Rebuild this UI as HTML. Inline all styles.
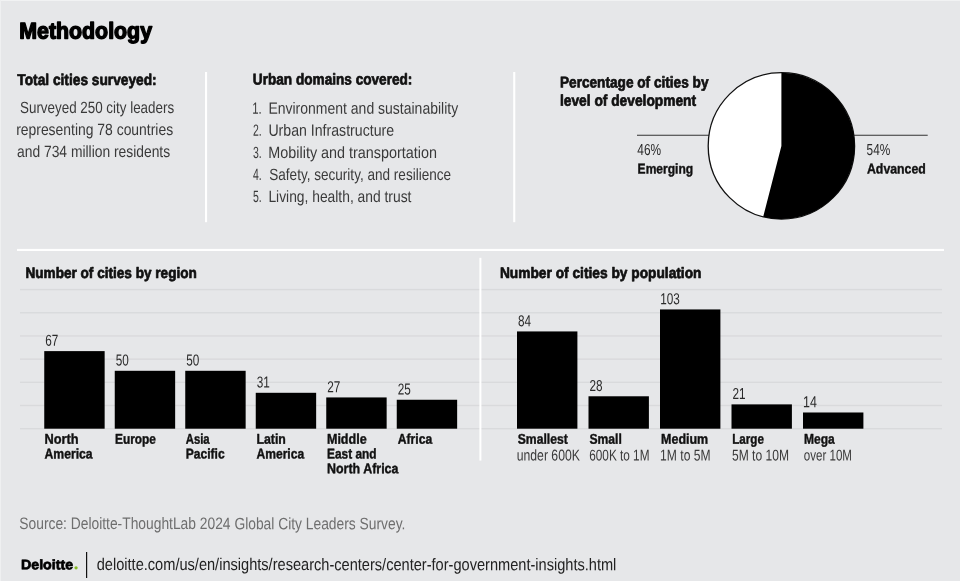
<!DOCTYPE html>
<html><head><meta charset="utf-8"><title>Methodology</title>
<style>
html,body{margin:0;padding:0;}
body{width:960px;height:581px;overflow:hidden;background:#e6e7e9;position:relative;font-family:"Liberation Sans",sans-serif;}
.t{position:absolute;white-space:nowrap;line-height:1;transform-origin:0 0;display:block;}
.r{position:absolute;}
</style></head><body>
<svg class="r" style="left:0;top:0" width="960" height="581" viewBox="0 0 960 581">
<rect x="0" y="0" width="960" height="1" fill="#f1f2f3"/>
<rect x="0" y="0" width="1" height="581" fill="#eff0f1"/>
<rect x="20" y="288.90" width="922" height="1.4" fill="#d9dadc"/>
<rect x="20" y="312.08" width="922" height="1.4" fill="#d9dadc"/>
<rect x="20" y="335.26" width="922" height="1.4" fill="#d9dadc"/>
<rect x="20" y="358.44" width="922" height="1.4" fill="#d9dadc"/>
<rect x="20" y="381.62" width="922" height="1.4" fill="#d9dadc"/>
<rect x="20" y="404.80" width="922" height="1.4" fill="#d9dadc"/>
<rect x="20" y="427.98" width="922" height="1.4" fill="#d9dadc"/>
<rect x="205" y="72" width="2.1" height="150.2" fill="#fff"/>
<rect x="513.2" y="72" width="2.1" height="150.2" fill="#fff"/>
<rect x="17" y="248.9" width="927" height="2.1" fill="#fff"/>
<rect x="479.4" y="257.8" width="2" height="202.8" fill="#fff"/>
<rect x="44.25" y="351.11" width="60.4" height="77.59" fill="#000"/>
<rect x="114.75" y="370.80" width="60.4" height="57.90" fill="#000"/>
<rect x="185.25" y="370.80" width="60.4" height="57.90" fill="#000"/>
<rect x="255.75" y="392.80" width="60.4" height="35.90" fill="#000"/>
<rect x="326.25" y="397.43" width="60.4" height="31.27" fill="#000"/>
<rect x="396.75" y="399.75" width="60.4" height="28.95" fill="#000"/>
<rect x="517.00" y="331.43" width="60.4" height="97.27" fill="#000"/>
<rect x="588.50" y="396.28" width="60.4" height="32.42" fill="#000"/>
<rect x="660.00" y="309.43" width="60.4" height="119.27" fill="#000"/>
<rect x="731.50" y="404.38" width="60.4" height="24.32" fill="#000"/>
<rect x="803.00" y="412.49" width="60.4" height="16.21" fill="#000"/>
<rect x="86" y="552" width="1.2" height="26" fill="#111"/>
<circle cx="76.05" cy="567.85" r="1.65" fill="#86bc25"/>
</svg>
<svg class="r" style="left:600px;top:60px" width="360" height="170" viewBox="600 60 360 170">
<line x1="637" y1="135.2" x2="709" y2="135.2" stroke="#333" stroke-width="1.1"/>
<line x1="854" y1="135.2" x2="927.7" y2="135.2" stroke="#333" stroke-width="1.1"/>
<circle cx="781.4" cy="145.9" r="73.2" fill="#fff" stroke="#111" stroke-width="1.3"/>
<path d="M781.4 145.9 L781.4 72.7 A73.2 73.2 0 1 1 763.2 216.8 Z" fill="#000"/>
</svg>
<svg class="r" style="left:0;top:0;will-change:transform" width="960" height="581" viewBox="0 0 960 581" font-family="Liberation Sans, sans-serif">
<text class="t" transform="translate(19.26 38.40) scale(0.9359 1) rotate(0.03)" font-size="22.8" font-weight="700" fill="#000" stroke="#000" stroke-width="1.4" stroke-linejoin="round">Methodology</text>
<text class="t" transform="translate(17.35 85.00) scale(0.8803 1) rotate(0.03)" font-size="15.6" font-weight="700" fill="#111" stroke="#111" stroke-width="0.7" stroke-linejoin="round">Total cities surveyed:</text>
<text class="t" transform="translate(20.00 113.00) scale(0.8227 1) rotate(0.03)" font-size="16.3" font-weight="400" fill="#3a3a3a">Surveyed 250 city leaders</text>
<text class="t" transform="translate(16.15 135.00) scale(0.8544 1) rotate(0.03)" font-size="16.3" font-weight="400" fill="#3a3a3a">representing 78 countries</text>
<text class="t" transform="translate(17.00 157.00) scale(0.8502 1) rotate(0.03)" font-size="16.3" font-weight="400" fill="#3a3a3a">and 734 million residents</text>
<text class="t" transform="translate(252.85 84.50) scale(0.8729 1) rotate(0.03)" font-size="15.6" font-weight="700" fill="#111" stroke="#111" stroke-width="0.7" stroke-linejoin="round">Urban domains covered:</text>
<text class="t" transform="translate(252.30 113.75) scale(0.6968 1) rotate(0.03)" font-size="16.3" font-weight="400" fill="#3a3a3a">1.</text>
<text class="t" transform="translate(268.39 113.75) scale(0.8587 1) rotate(0.03)" font-size="16.3" font-weight="400" fill="#3a3a3a">Environment and sustainability</text>
<text class="t" transform="translate(253.00 135.75) scale(0.6434 1) rotate(0.03)" font-size="16.3" font-weight="400" fill="#3a3a3a">2.</text>
<text class="t" transform="translate(268.38 135.75) scale(0.8680 1) rotate(0.03)" font-size="16.3" font-weight="400" fill="#3a3a3a">Urban Infrastructure</text>
<text class="t" transform="translate(253.00 158.00) scale(0.6434 1) rotate(0.03)" font-size="16.3" font-weight="400" fill="#3a3a3a">3.</text>
<text class="t" transform="translate(268.37 158.00) scale(0.8827 1) rotate(0.03)" font-size="16.3" font-weight="400" fill="#3a3a3a">Mobility and transportation</text>
<text class="t" transform="translate(253.00 180.00) scale(0.6434 1) rotate(0.03)" font-size="16.3" font-weight="400" fill="#3a3a3a">4.</text>
<text class="t" transform="translate(269.25 180.00) scale(0.8324 1) rotate(0.03)" font-size="16.3" font-weight="400" fill="#3a3a3a">Safety, security, and resilience</text>
<text class="t" transform="translate(253.00 202.00) scale(0.6434 1) rotate(0.03)" font-size="16.3" font-weight="400" fill="#3a3a3a">5.</text>
<text class="t" transform="translate(268.40 202.00) scale(0.8491 1) rotate(0.03)" font-size="16.3" font-weight="400" fill="#3a3a3a">Living, health, and trust</text>
<text class="t" transform="translate(559.97 87.50) scale(0.8750 1) rotate(0.03)" font-size="15.6" font-weight="700" fill="#111" stroke="#111" stroke-width="0.7" stroke-linejoin="round">Percentage of cities by</text>
<text class="t" transform="translate(559.97 105.75) scale(0.8824 1) rotate(0.03)" font-size="15.6" font-weight="700" fill="#111" stroke="#111" stroke-width="0.7" stroke-linejoin="round">level of development</text>
<text class="t" transform="translate(637.30 155.00) scale(0.7482 1) rotate(0.03)" font-size="15.9" font-weight="400" fill="#2a2a2a">46%</text>
<text class="t" transform="translate(637.60 173.40) scale(0.8542 1) rotate(0.03)" font-size="14.1" font-weight="700" fill="#111" stroke="#111" stroke-width="0.4" stroke-linejoin="round">Emerging</text>
<text class="t" transform="translate(866.60 155.00) scale(0.7451 1) rotate(0.03)" font-size="15.9" font-weight="400" fill="#2a2a2a">54%</text>
<text class="t" transform="translate(867.00 173.50) scale(0.8719 1) rotate(0.03)" font-size="14.1" font-weight="700" fill="#111" stroke="#111" stroke-width="0.4" stroke-linejoin="round">Advanced</text>
<text class="t" transform="translate(25.46 278.00) scale(0.8950 1) rotate(0.03)" font-size="15.2" font-weight="700" fill="#111" stroke="#111" stroke-width="0.7" stroke-linejoin="round">Number of cities by region</text>
<text class="t" transform="translate(499.95 278.00) scale(0.9043 1) rotate(0.03)" font-size="15.2" font-weight="700" fill="#111" stroke="#111" stroke-width="0.7" stroke-linejoin="round">Number of cities by population</text>
<text class="t" transform="translate(45.15 345.81) scale(0.7400 1) rotate(0.03)" font-size="15.9" font-weight="400" fill="#2a2a2a">67</text>
<text class="t" transform="translate(115.65 365.50) scale(0.7400 1) rotate(0.03)" font-size="15.9" font-weight="400" fill="#2a2a2a">50</text>
<text class="t" transform="translate(186.15 365.50) scale(0.7400 1) rotate(0.03)" font-size="15.9" font-weight="400" fill="#2a2a2a">50</text>
<text class="t" transform="translate(256.65 387.50) scale(0.7400 1) rotate(0.03)" font-size="15.9" font-weight="400" fill="#2a2a2a">31</text>
<text class="t" transform="translate(327.15 392.13) scale(0.7400 1) rotate(0.03)" font-size="15.9" font-weight="400" fill="#2a2a2a">27</text>
<text class="t" transform="translate(397.65 394.45) scale(0.7400 1) rotate(0.03)" font-size="15.9" font-weight="400" fill="#2a2a2a">25</text>
<text class="t" transform="translate(517.90 326.13) scale(0.7400 1) rotate(0.03)" font-size="15.9" font-weight="400" fill="#2a2a2a">84</text>
<text class="t" transform="translate(589.40 390.98) scale(0.7400 1) rotate(0.03)" font-size="15.9" font-weight="400" fill="#2a2a2a">28</text>
<text class="t" transform="translate(660.16 304.13) scale(0.7400 1) rotate(0.03)" font-size="15.9" font-weight="400" fill="#2a2a2a">103</text>
<text class="t" transform="translate(732.40 399.08) scale(0.7400 1) rotate(0.03)" font-size="15.9" font-weight="400" fill="#2a2a2a">21</text>
<text class="t" transform="translate(803.12 407.19) scale(0.7840 1) rotate(0.03)" font-size="15.9" font-weight="400" fill="#2a2a2a">14</text>
<text class="t" transform="translate(44.45 443.75) scale(0.9090 1) rotate(0.03)" font-size="14.1" font-weight="700" fill="#111" stroke="#111" stroke-width="0.4" stroke-linejoin="round">North</text>
<text class="t" transform="translate(44.45 458.50) scale(0.8667 1) rotate(0.03)" font-size="14.1" font-weight="700" fill="#111" stroke="#111" stroke-width="0.4" stroke-linejoin="round">America</text>
<text class="t" transform="translate(114.95 443.75) scale(0.8437 1) rotate(0.03)" font-size="14.1" font-weight="700" fill="#111" stroke="#111" stroke-width="0.4" stroke-linejoin="round">Europe</text>
<text class="t" transform="translate(185.70 443.75) scale(0.8052 1) rotate(0.03)" font-size="14.1" font-weight="700" fill="#111" stroke="#111" stroke-width="0.4" stroke-linejoin="round">Asia</text>
<text class="t" transform="translate(185.70 458.50) scale(0.8574 1) rotate(0.03)" font-size="14.1" font-weight="700" fill="#111" stroke="#111" stroke-width="0.4" stroke-linejoin="round">Pacific</text>
<text class="t" transform="translate(256.45 443.75) scale(0.8728 1) rotate(0.03)" font-size="14.1" font-weight="700" fill="#111" stroke="#111" stroke-width="0.4" stroke-linejoin="round">Latin</text>
<text class="t" transform="translate(256.45 458.50) scale(0.8577 1) rotate(0.03)" font-size="14.1" font-weight="700" fill="#111" stroke="#111" stroke-width="0.4" stroke-linejoin="round">America</text>
<text class="t" transform="translate(326.95 443.75) scale(0.8897 1) rotate(0.03)" font-size="14.1" font-weight="700" fill="#111" stroke="#111" stroke-width="0.4" stroke-linejoin="round">Middle</text>
<text class="t" transform="translate(326.95 458.50) scale(0.8446 1) rotate(0.03)" font-size="14.1" font-weight="700" fill="#111" stroke="#111" stroke-width="0.4" stroke-linejoin="round">East and</text>
<text class="t" transform="translate(326.95 473.25) scale(0.8836 1) rotate(0.03)" font-size="14.1" font-weight="700" fill="#111" stroke="#111" stroke-width="0.4" stroke-linejoin="round">North Africa</text>
<text class="t" transform="translate(397.70 443.75) scale(0.8626 1) rotate(0.03)" font-size="14.1" font-weight="700" fill="#111" stroke="#111" stroke-width="0.4" stroke-linejoin="round">Africa</text>
<text class="t" transform="translate(517.70 443.75) scale(0.8640 1) rotate(0.03)" font-size="14.1" font-weight="700" fill="#111" stroke="#111" stroke-width="0.4" stroke-linejoin="round">Smallest</text>
<text class="t" transform="translate(516.72 460.50) scale(0.7840 1) rotate(0.03)" font-size="15.6" font-weight="400" fill="#3a3a3a">under 600K</text>
<text class="t" transform="translate(589.45 443.75) scale(0.8614 1) rotate(0.03)" font-size="14.1" font-weight="700" fill="#111" stroke="#111" stroke-width="0.4" stroke-linejoin="round">Small</text>
<text class="t" transform="translate(589.25 460.50) scale(0.7555 1) rotate(0.03)" font-size="15.6" font-weight="400" fill="#3a3a3a">600K to 1M</text>
<text class="t" transform="translate(661.10 443.75) scale(0.8859 1) rotate(0.03)" font-size="14.1" font-weight="700" fill="#111" stroke="#111" stroke-width="0.4" stroke-linejoin="round">Medium</text>
<text class="t" transform="translate(660.12 460.50) scale(0.7761 1) rotate(0.03)" font-size="15.6" font-weight="400" fill="#3a3a3a">1M to 5M</text>
<text class="t" transform="translate(732.20 443.75) scale(0.8264 1) rotate(0.03)" font-size="14.1" font-weight="700" fill="#111" stroke="#111" stroke-width="0.4" stroke-linejoin="round">Large</text>
<text class="t" transform="translate(732.00 460.50) scale(0.7740 1) rotate(0.03)" font-size="15.6" font-weight="400" fill="#3a3a3a">5M to 10M</text>
<text class="t" transform="translate(803.95 443.75) scale(0.8525 1) rotate(0.03)" font-size="14.1" font-weight="700" fill="#111" stroke="#111" stroke-width="0.4" stroke-linejoin="round">Mega</text>
<text class="t" transform="translate(803.75 460.50) scale(0.7420 1) rotate(0.03)" font-size="15.6" font-weight="400" fill="#3a3a3a">over 10M</text>
<text class="t" transform="translate(19.30 529.00) scale(0.8330 1) rotate(0.03)" font-size="16.6" font-weight="400" fill="#6e6e6e">Source: Deloitte-ThoughtLab 2024 Global City Leaders Survey.</text>
<text class="t" transform="translate(96.75 570.00) scale(0.8589 1) rotate(0.03)" font-size="17.0" font-weight="400" fill="#222">deloitte.com/us/en/insights/research-centers/center-for-government-insights.html</text>
<text class="t" transform="translate(20.95 569.30) scale(1.0330 1) rotate(0.03)" font-size="13.8" font-weight="700" fill="#000" stroke="#000" stroke-width="0.7" stroke-linejoin="round">Deloitte</text>
</svg>
</body></html>
